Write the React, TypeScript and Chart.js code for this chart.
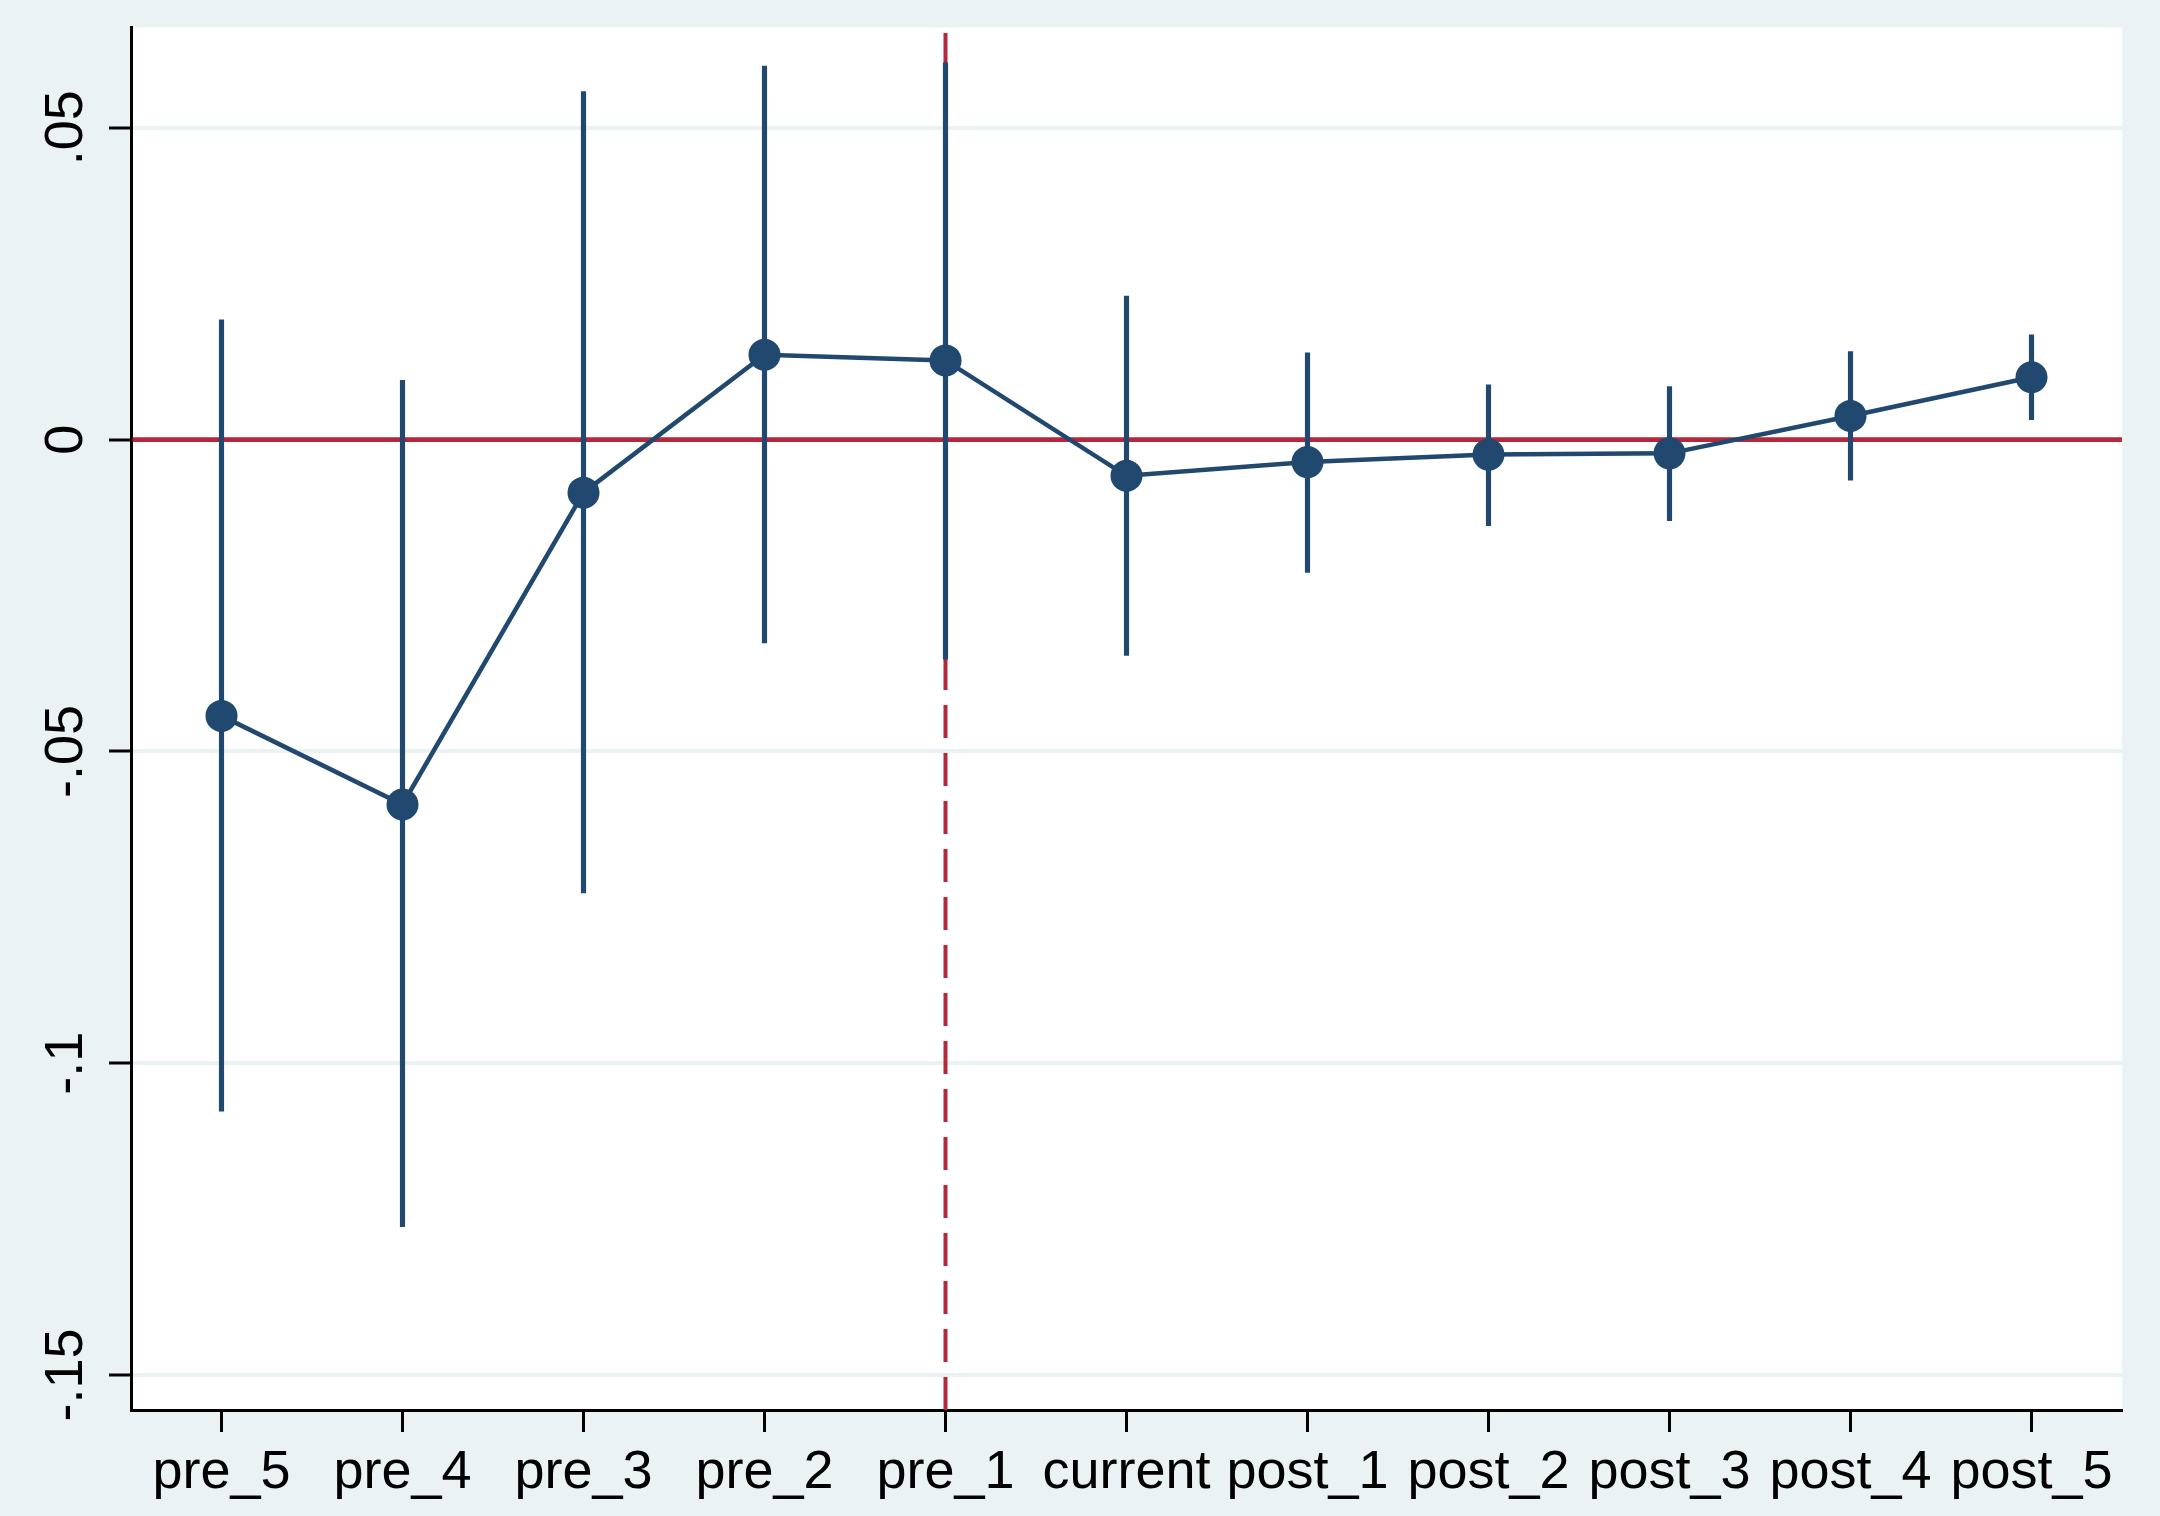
import { useEffect, useRef } from "react";
import { Chart, registerables } from "chart.js";

Chart.register(...registerables);

const categories = ["pre_5", "pre_4", "pre_3", "pre_2", "pre_1", "current", "post_1", "post_2", "post_3", "post_4", "post_5"];
const coef = [-0.0443, -0.0585, -0.0085, 0.0136, 0.0127, -0.0058, -0.0036, -0.0024, -0.0022, 0.0038, 0.01];
const ciLow = [-0.1077, -0.1262, -0.0727, -0.0326, -0.0352, -0.0346, -0.0213, -0.0138, -0.013, -0.0065, 0.0032];
const ciHigh = [0.0192, 0.0095, 0.0558, 0.0599, 0.0604, 0.023, 0.0139, 0.0088, 0.0085, 0.0141, 0.0168];
const yTickValues = [-0.15, -0.1, -0.05, 0, 0.05];
const yTickLabels = ["-.15", "-.1", "-.05", "0", ".05"];
const eventIndex = 4;
const refY = 0;

const W = 2160;
const H = 1516;
const BG = "#eaf2f3";
const NAVY = "#21486f";
const RED = "#b5273b";
const FONT = "'Liberation Sans', Arial, Helvetica, sans-serif";

const decorPlugin = {
  id: "decor",
  beforeDraw(chart: any) {
    const { ctx, chartArea: a, width, height } = chart;
    ctx.save();
    ctx.fillStyle = BG;
    ctx.fillRect(0, 0, width, height);
    ctx.fillStyle = "#ffffff";
    ctx.fillRect(a.left, a.top, a.right - a.left, a.bottom - a.top);
    ctx.restore();
  },
  beforeDatasetsDraw(chart: any) {
    const { ctx, chartArea: a, scales } = chart;
    const y0 = scales.y.getPixelForValue(refY);
    const xe = scales.x.getPixelForValue(eventIndex);
    ctx.save();
    ctx.strokeStyle = RED;
    ctx.lineWidth = 4.8;
    ctx.beginPath();
    ctx.moveTo(a.left + 1.5, y0);
    ctx.lineTo(a.right, y0);
    ctx.stroke();
    ctx.lineWidth = 4;
    ctx.setLineDash([33, 15]);
    ctx.beginPath();
    ctx.moveTo(xe, a.bottom);
    ctx.lineTo(xe, a.top);
    ctx.stroke();
    ctx.restore();
  },
};

export default function App() {
  const ref = useRef<HTMLCanvasElement | null>(null);

  useEffect(() => {
    document.body.style.margin = "0";
    const canvas = ref.current;
    if (!canvas) return;
    const chart = new Chart(canvas, {
      type: "line",
      data: {
        datasets: [
          {
            type: "line",
            data: coef.map((v, i) => ({ x: i, y: v })),
            borderColor: NAVY,
            borderWidth: 4.5,
            pointRadius: 16,
            pointBackgroundColor: NAVY,
            pointBorderWidth: 0,
            pointHoverRadius: 16,
            tension: 0,
            order: 0,
          } as any,
          {
            type: "bar",
            data: ciLow.map((lo, i) => ({ x: i, y: [lo, ciHigh[i]] })),
            backgroundColor: NAVY,
            borderWidth: 0,
            barThickness: 4.5,
            grouped: false,
            order: 1,
          } as any,
        ],
      },
      options: {
        animation: false,
        responsive: false,
        devicePixelRatio: 1,
        layout: { padding: { top: 23, right: 38, left: 0, bottom: 0 }, autoPadding: false },
        plugins: { legend: { display: false }, tooltip: { enabled: false } },
        scales: {
          x: {
            type: "linear",
            min: -0.5,
            max: 10.5,
            offset: false,
            afterBuildTicks: (scale: any) => {
              scale.ticks = categories.map((_, i) => ({ value: i }));
            },
            afterFit: (scale: any) => {
              scale.height = 106;
            },
            grid: {
              offset: false,
              drawOnChartArea: false,
              tickLength: 22,
              tickColor: "#000",
              tickWidth: 3,
            },
            border: { display: true, color: "#000", width: 3 },
            ticks: {
              padding: 9,
              maxRotation: 0,
              minRotation: 0,
              autoSkip: false,
              color: "#000",
              font: { family: FONT, size: 54 },
              callback: (v: any) => categories[Math.round(Number(v))] ?? "",
            },
          },
          y: {
            type: "linear",
            min: -0.1556,
            max: 0.0661,
            afterBuildTicks: (scale: any) => {
              scale.ticks = yTickValues.map((v) => ({ value: v }));
            },
            afterFit: (scale: any) => {
              scale.width = 131;
            },
            grid: {
              color: BG,
              lineWidth: 4,
              tickLength: 22,
              tickColor: "#000",
              tickWidth: 3,
            },
            border: { display: true, color: "#000", width: 3 },
            ticks: {
              padding: -5,
              minRotation: 90,
              maxRotation: 90,
              crossAlign: "center",
              autoSkip: false,
              color: "#000",
              font: { family: FONT, size: 54 },
              callback: (v: any) => {
                const idx = yTickValues.findIndex((t) => Math.abs(t - Number(v)) < 1e-9);
                return idx >= 0 ? yTickLabels[idx] : "";
              },
            },
          },
        },
      },
      plugins: [decorPlugin],
    });
    return () => chart.destroy();
  }, []);

  return (
    <div style={{ width: W, height: H }}>
      <canvas ref={ref} width={W} height={H} style={{ display: "block", width: W, height: H }} />
    </div>
  );
}
